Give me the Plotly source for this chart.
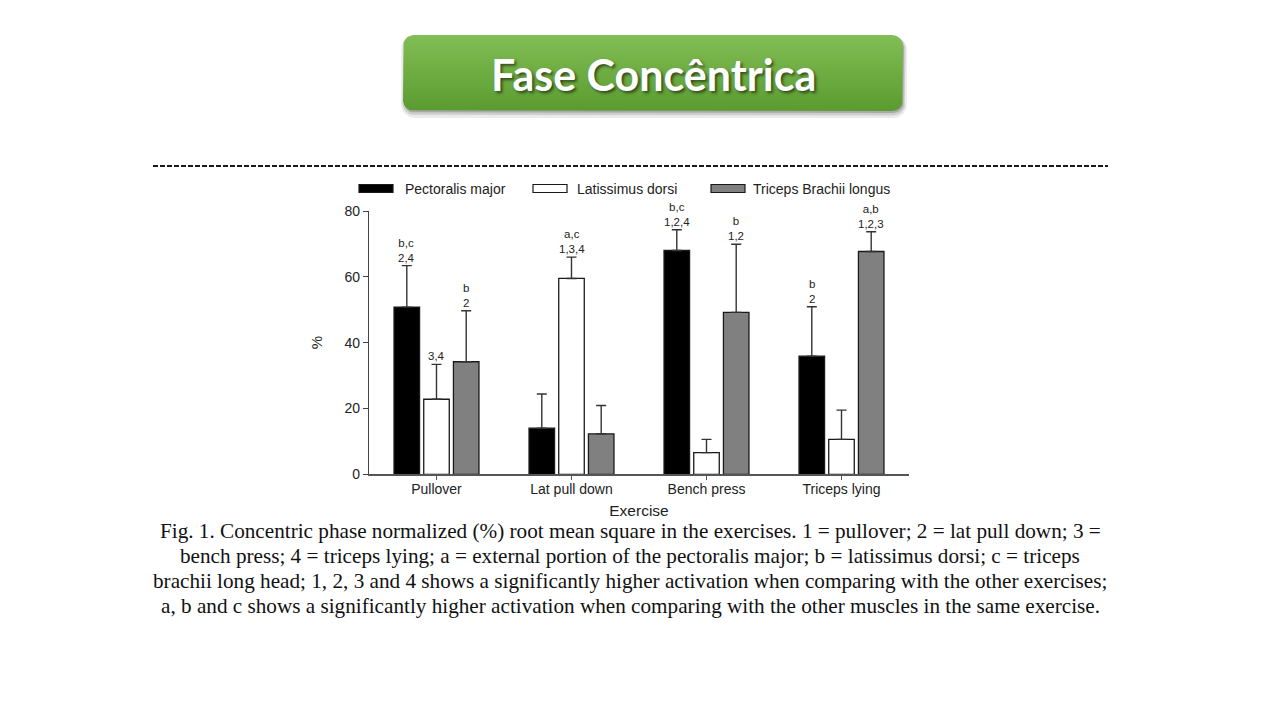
import numpy as np
import plotly.graph_objects as go

# ---------------- data ----------------
categories = ["Pullover", "Lat pull down", "Bench press", "Triceps lying"]
series_names = ["Pectoralis major", "Latissimus dorsi", "Triceps Brachii longus"]

pectoralis_mean = [50.8, 14.0, 68.0, 35.9]
pectoralis_sd = [12.6, 10.4, 6.3, 15.0]
latissimus_mean = [22.8, 59.5, 6.6, 10.6]
latissimus_sd = [10.6, 6.5, 4.0, 8.9]
triceps_mean = [34.2, 12.3, 49.2, 67.7]
triceps_sd = [15.5, 8.6, 20.7, 6.0]

# significance labels (upper line, lower line)
pectoralis_sig = [("b,c", "2,4"), ("", ""), ("b,c", "1,2,4"), ("b", "2")]
latissimus_sig = [("", "3,4"), ("a,c", "1,3,4"), ("", ""), ("", "")]
triceps_sig = [("b", "2"), ("", ""), ("b", "1,2"), ("a,b", "1,2,3")]

y_ticks = [0, 20, 40, 60, 80]

title_text = "Fase Concêntrica"
caption_lines = [
    "Fig. 1. Concentric phase normalized (%) root mean square in the exercises. 1 = pullover; 2 = lat pull down; 3 =",
    "bench press; 4 = triceps lying; a = external portion of the pectoralis major; b = latissimus dorsi; c = triceps",
    "brachii long head; 1, 2, 3 and 4 shows a significantly higher activation when comparing with the other exercises;",
    "a, b and c shows a significantly higher activation when comparing with the other muscles in the same exercise.",
]

# ---------------- styling ----------------
W, H = 1280, 720
bar_colors = ["#000000", "#ffffff", "#808080"]
SANS = "Liberation Sans, Arial, sans-serif"
SERIF = "Liberation Serif, Times New Roman, serif"
bargap = 0.34
bargroupgap = 0.14

def px(x):
    return x / W

def py(y):
    return 1 - y / H

fig = go.Figure()

means = [pectoralis_mean, latissimus_mean, triceps_mean]
sds = [pectoralis_sd, latissimus_sd, triceps_sd]
sigs = [pectoralis_sig, latissimus_sig, triceps_sig]

for name, m, s, c in zip(series_names, means, sds, bar_colors):
    fig.add_trace(go.Bar(
        x=categories, y=m, name=name,
        marker=dict(color=c, line=dict(color="#1a1a1a", width=1.3)),
        error_y=dict(type="data", symmetric=False, array=s, arrayminus=[0] * len(s),
                     color="#333333", thickness=1.4, width=5),
        showlegend=False, xaxis="x", yaxis="y",
    ))

# significance annotations placed at bar positions
slot = (1 - bargap) / len(series_names)
annotations = []
for k, (m, s, sg) in enumerate(zip(means, sds, sigs)):
    off = (k - (len(series_names) - 1) / 2) * slot
    for i in range(len(categories)):
        top = m[i] + s[i]
        upper, lower = sg[i]
        txt = "<br>".join(t for t in (upper, lower) if t)
        if txt:
            annotations.append(dict(
                x=i + off, y=top, xref="x", yref="y", text=txt, showarrow=False,
                yanchor="bottom", yshift=1, borderpad=0,
                font=dict(family=SANS, size=11.5, color="#222222")))

# ---------------- decorations (pixel coordinates on hidden axes) ----------------
def rrect(x0, y0, x1, y1, r, n=10):
    xs, ys = [], []
    corners = [(x1 - r, y0 + r, -90, 0), (x1 - r, y1 - r, 0, 90),
               (x0 + r, y1 - r, 90, 180), (x0 + r, y0 + r, 180, 270)]
    for cx, cy, a0, a1 in corners:
        for a in np.linspace(np.radians(a0), np.radians(a1), n):
            xs.append(cx + r * np.cos(a))
            ys.append(cy + r * np.sin(a))
    xs.append(xs[0]); ys.append(ys[0])
    return xs, ys

# shadow
for dx, dy, grow, alpha in [(1, 4, 3, 0.08), (1, 3, 1.5, 0.12), (1, 2, 0, 0.18)]:
    sx, sy = rrect(403 + dx - grow, 35 + dy - grow, 903 + dx + grow, 111 + dy + grow, 11 + grow)
    fig.add_trace(go.Scatter(x=sx, y=sy, mode="lines", fill="toself",
                             fillcolor=f"rgba(0,0,0,{alpha})", line=dict(width=0),
                             hoverinfo="skip", showlegend=False, xaxis="x2", yaxis="y2"))

bx, by = rrect(403, 35, 903, 111, 11)
fig.add_trace(go.Scatter(
    x=bx, y=by, mode="lines", fill="toself", line=dict(width=0, color="#5e9e33"),
    fillgradient=dict(type="vertical", colorscale=[[0, "#5a9b2f"], [1, "#82be56"]]),
    hoverinfo="skip", showlegend=False, xaxis="x2", yaxis="y2"))

annotations.append(dict(
    x=px(653), y=py(75), xref="paper", yref="paper", text=f"<b>{title_text}</b>",
    showarrow=False, xanchor="center", yanchor="middle",
    font=dict(family="Lato, Open Sans, sans-serif", size=43, color="#ffffff",
              shadow="2px 2px 3px rgba(0,0,0,0.55)")))

shapes = []
# dashed separator
shapes.append(dict(type="line", xref="paper", yref="paper", x0=px(153), x1=px(1108),
                   y0=py(166), y1=py(166), line=dict(color="#1a1a1a", width=2.2, dash="5px,2px")))

# legend
legend_items = [(359, 403), (533, 575), (711, 751)]
for (sx0, tx), name, c in zip(legend_items, series_names, bar_colors):
    shapes.append(dict(type="rect", xref="paper", yref="paper", x0=px(sx0), x1=px(sx0 + 34),
                       y0=py(192.5), y1=py(184.5), fillcolor=c,
                       line=dict(color="#1a1a1a", width=1.2)))
    annotations.append(dict(x=px(tx), y=py(188.5), xref="paper", yref="paper", text=name,
                            showarrow=False, xanchor="left", yanchor="middle",
                            font=dict(family=SANS, size=14, color="#222222")))

# caption
for k, line in enumerate(caption_lines):
    annotations.append(dict(x=px(630), y=py(531 + 25 * k), xref="paper", yref="paper",
                            text=line, showarrow=False, xanchor="center", yanchor="middle",
                            font=dict(family=SERIF, size=21.2, color="#111111")))

fig.update_layout(
    width=W, height=H, template="none",
    margin=dict(l=0, r=0, t=0, b=0),
    paper_bgcolor="#ffffff", plot_bgcolor="rgba(0,0,0,0)",
    barmode="group", bargap=bargap, bargroupgap=bargroupgap,
    showlegend=False,
    xaxis=dict(domain=[px(369), px(909)], type="category", range=[-0.5, 3.5],
               showline=True, linecolor="#555555", linewidth=1.6, showgrid=False, zeroline=False,
               ticks="outside", ticklen=4, tickcolor="#555555", tickwidth=1.2,
               ticklabelstandoff=-3,
               tickfont=dict(family=SANS, size=14, color="#222222"),
               title=dict(text="Exercise", font=dict(family=SANS, size=15.5, color="#222222"), standoff=9)),
    yaxis=dict(domain=[py(474.3), py(211)], range=[0, 80], tickvals=y_ticks,
               showline=True, linecolor="#444444", linewidth=1.4, showgrid=False, zeroline=False,
               ticks="outside", ticklen=5, tickcolor="#444444", tickwidth=1.2,
               tickfont=dict(family=SANS, size=14, color="#222222"),
               title=dict(text="%", font=dict(family=SANS, size=15, color="#222222"), standoff=18)),
    xaxis2=dict(domain=[0, 1], range=[0, W], visible=False, anchor="y2"),
    yaxis2=dict(domain=[0, 1], range=[H, 0], visible=False, anchor="x2"),
    annotations=annotations, shapes=shapes,
)

fig.write_html("out.html")
